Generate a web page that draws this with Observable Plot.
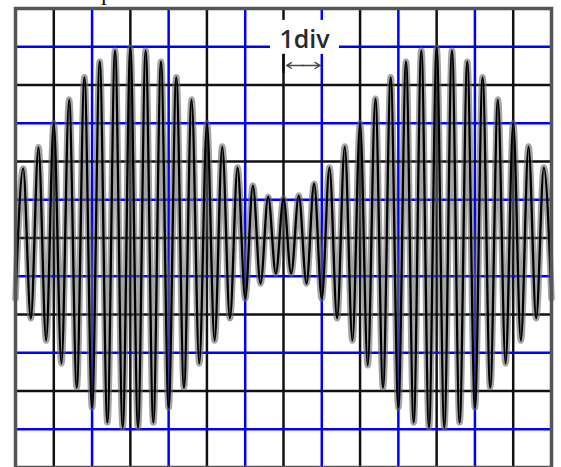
<!DOCTYPE html>
<html>
<head>
<meta charset="utf-8">
<script src="https://cdn.jsdelivr.net/npm/d3@7"></script>
<script src="https://cdn.jsdelivr.net/npm/@observablehq/plot@0.6"></script>
<style>
  html, body { margin: 0; padding: 0; background: #fff; overflow: hidden; }
  #wrap { position: relative; width: 561px; height: 467px; }
  #frag { position: absolute; left: 101px; top: -20px; font-family: "Liberation Serif", serif; font-size: 24px; color: #111; line-height: 24px; }
</style>
</head>
<body>
<div id="wrap"><div id="frag">p</div><div id="chart"></div></div>
<script>
// Horizontal positions (divisions) and values (divisions) of the trace's upper peaks
const peakX = [0.2, 0.6, 1.0, 1.4, 1.8, 2.2, 2.6, 3.0, 3.4, 3.8, 4.2, 4.6, 5.0, 5.4, 5.8, 6.2, 6.6, 7.0,
               7.4, 7.8, 8.2, 8.6, 9.0, 9.4, 9.8, 10.2, 10.6, 11.0, 11.4, 11.8, 12.2, 12.6, 13.0, 13.4, 13.8];
const peakV = [1.82, 2.37, 3.0, 3.62, 4.2, 4.61, 4.9, 4.97, 4.9, 4.61, 4.2, 3.62, 3.0, 2.39, 1.84, 1.37, 1.08, 1.03,
               1.11, 1.42, 1.84, 2.39, 3.0, 3.64, 4.2, 4.61, 4.9, 4.97, 4.9, 4.61, 4.2, 3.62, 3.0, 2.39, 1.84];
// Lower troughs
const troughX = [0, 0.4, 0.8, 1.2, 1.6, 2.0, 2.4, 2.8, 3.2, 3.6, 4.0, 4.4, 4.8, 5.2, 5.6, 6.0, 6.4, 6.8,
                 7.2, 7.6, 8.0, 8.4, 8.8, 9.2, 9.6, 10.0, 10.4, 10.8, 11.2, 11.6, 12.0, 12.4, 12.8, 13.2, 13.6, 14.0];
const troughV = [-1.58, -2.1, -2.68, -3.28, -3.91, -4.43, -4.82, -4.95, -4.95, -4.82, -4.43, -3.91, -3.28, -2.68, -2.1, -1.58, -1.19, -0.93,
                 -0.93, -1.19, -1.58, -2.1, -2.68, -3.33, -3.91, -4.43, -4.82, -4.95, -4.95, -4.82, -4.43, -3.91, -3.28, -2.68, -2.1, -1.58];

// Graticule
const blackX = [1, 3, 5, 7, 9, 11, 13];
const blueX = [2, 4, 6, 8, 10, 12];
const blackY = [-4, -2, 0, 2, 4];
const blueY = [-5, -3, -1, 1, 3, 5];

const divLabel = "1div";

const trace = [
  ...peakX.map((x, i) => ({x, v: peakV[i]})),
  ...troughX.map((x, i) => ({x, v: troughV[i]}))
].sort((a, b) => a.x - b.x);

const chart = Plot.plot({
  width: 561,
  height: 467,
  marginLeft: 15,
  marginRight: 10,
  marginTop: 8,
  marginBottom: 0,
  x: {domain: [0, 14], axis: null},
  y: {domain: [-6, 6], axis: null},
  style: {background: "white", overflow: "hidden"},
  marks: [
    Plot.ruleX(blackX, {stroke: "#111", strokeWidth: 2.5}),
    Plot.ruleX(blueX, {stroke: "#0000ff", strokeWidth: 2.5}),
    Plot.ruleY(blackY, {stroke: "#111", strokeWidth: 2.5}),
    Plot.ruleY(blueY, {stroke: "#0000ff", strokeWidth: 2.5}),
    Plot.line(trace, {x: "x", y: "v", curve: "monotone-x", stroke: "#666", strokeWidth: 6.5, strokeOpacity: 0.6}),
    Plot.line(trace, {x: "x", y: "v", curve: "monotone-x", stroke: "#000", strokeWidth: 2.3}),
    Plot.rect([0], {x1: 6.66, x2: 8.46, y1: 4.8, y2: 5.69, fill: "white"}),
    Plot.ruleX([7], {y1: 4.8, y2: 4.3, stroke: "#111", strokeWidth: 2.5}),
    Plot.arrow([0], {x1: 7.52, x2: 7.08, y1: 4.51, y2: 4.51, stroke: "#444", strokeWidth: 1.3, headLength: 8}),
    Plot.arrow([0], {x1: 7.48, x2: 7.96, y1: 4.51, y2: 4.51, stroke: "#444", strokeWidth: 1.3, headLength: 8}),
    Plot.text([divLabel], {x: 7.55, y: 4.98, text: d => d, lineAnchor: "bottom", fontSize: 25, fontWeight: 600, fontFamily: "Open Sans", fill: "#2a2a2a"}),
    Plot.frame({stroke: "#555", strokeWidth: 3.5})
  ]
});
document.getElementById("chart").appendChild(chart);
</script>
</body>
</html>
